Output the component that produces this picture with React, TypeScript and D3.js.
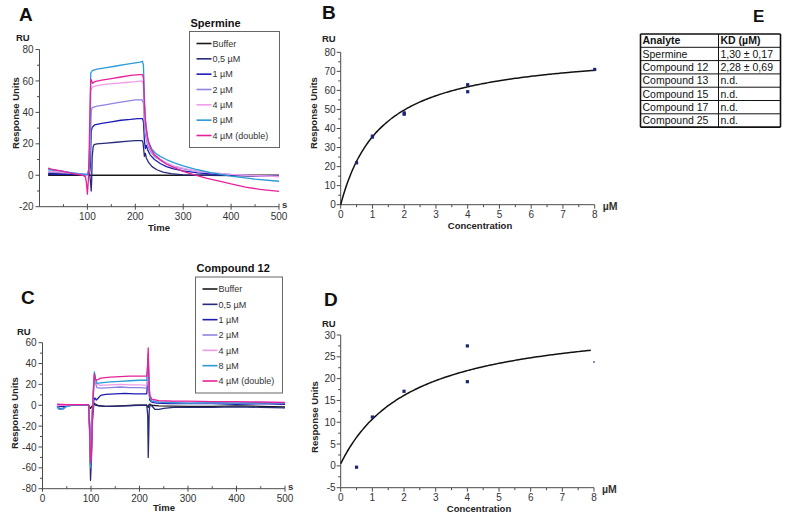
import React from "react";
import * as d3 from "d3";

type Pt = [number, number];

// ---------- legend / colours ----------
const legendLabels = ["Buffer", "0,5 µM", "1 µM", "2 µM", "4 µM", "8 µM", "4 µM (double)"];
const seriesColors = ["#1a1a1a", "#262a78", "#1c1cb4", "#8c84e0", "#ee9ee8", "#2a9ad8", "#e8219a"];

// ---------- Panel A: Spermine sensorgrams (time s, RU) ----------
const spBuffer: Pt[] = [[18, 0], [500, 0]];
const sp05: Pt[] = [[18, 1.2], [40, 1], [60, 0.8], [80, 0.5], [100, 0.3], [105, 0], [107, -6], [108, -10], [109, -2], [110, 12], [112, 18], [114, 19.5], [120, 20], [140, 20.5], [160, 21], [180, 21.5], [200, 22], [214, 22], [216, 21], [218, 15], [219, 12], [221, 14], [223, 11], [228, 8], [235, 5.5], [245, 3.5], [258, 2], [275, 1], [300, 0.3], [350, 0], [400, -0.2], [450, -0.5], [500, -0.6]];
const sp1: Pt[] = [[18, 0.5], [60, 0.5], [100, 0.3], [104, 0], [106, 5], [108, 28], [110, 30.5], [115, 32], [130, 33], [150, 34], [170, 35], [190, 35.5], [205, 36], [215, 36], [217, 34], [219, 22], [221, 17], [223, 19], [226, 16], [231, 13], [240, 10], [252, 7.5], [265, 5.5], [280, 4], [300, 2.8], [330, 1.5], [360, 0.8], [400, 0.2], [450, -0.3], [500, -0.6]];
const sp2: Pt[] = [[18, 2], [50, 1.5], [80, 1], [100, 0.5], [104, 2], [106, 20], [108, 41], [110, 43], [120, 44], [140, 45], [160, 46], [180, 47], [200, 48], [214, 48], [217, 46], [219, 32], [222, 24], [226, 19], [232, 15], [240, 12], [252, 9.5], [265, 7.5], [280, 5.5], [300, 4], [330, 2.5], [360, 1.5], [400, 0.5], [450, -0.2], [500, -0.8]];
const sp4: Pt[] = [[18, 2.5], [50, 2], [80, 1], [100, 0], [104, 5], [106, 35], [107, 54], [110, 56], [120, 57], [140, 58], [160, 58.5], [180, 59], [200, 59.5], [214, 60], [217, 58], [219, 40], [222, 28], [226, 21], [232, 16], [240, 13], [252, 10], [265, 8], [280, 6], [300, 4.5], [330, 2.5], [360, 1.5], [400, 0.5], [450, -0.3], [500, -0.8]];
const sp8: Pt[] = [[18, 3.5], [40, 3], [60, 2], [80, 1], [95, 0.5], [100, 0.5], [104, 5], [106, 40], [107, 65], [110, 66.5], [120, 67.5], [140, 68.5], [160, 69.5], [180, 70.5], [200, 71.5], [210, 72], [215, 72.5], [217, 70], [219, 50], [221, 35], [224, 27], [228, 21], [234, 17], [242, 14], [252, 12], [265, 10], [280, 8], [300, 6], [330, 3.5], [360, 1.5], [400, -0.5], [450, -2.5], [500, -3.8]];
const spDouble: Pt[] = [[18, 4.5], [30, 3.5], [50, 2.5], [70, 1], [90, 0], [96, -1], [98, -5], [100, -12], [102, -3], [104, 20], [106, 50], [107, 61], [109, 60], [111, 58.5], [115, 59.5], [130, 60.5], [150, 61.5], [170, 62.5], [190, 63.5], [210, 64], [215, 64], [217, 62], [219, 45], [222, 32], [226, 23], [232, 17], [240, 13], [252, 10], [265, 7], [280, 5], [300, 2.5], [320, 0.5], [350, -2], [380, -4], [400, -5.5], [430, -7.5], [460, -9], [500, -10.3]];

// ---------- Panel C: Compound 12 sensorgrams ----------
const c12Buffer: Pt[] = [[30, 0], [60, 0], [95, 0], [99, -3], [102, -1], [106, 1], [110, 0], [130, -1], [160, -0.5], [190, 0], [215, 0], [218, -2], [220, 1], [224, 0], [240, -0.5], [300, -1], [350, -1], [400, -0.5], [450, -1], [500, -1.5]];
const c1205: Pt[] = [[30, -1], [35, -3], [42, -3], [48, -1], [55, 0], [80, 0], [95, 0], [97, -20], [99, -72], [101, -50], [103, -15], [106, 2], [110, 1], [115, -0.5], [130, -1], [150, -1], [170, -0.5], [200, 0], [215, 0], [217, -10], [218, -50], [219, -30], [220, -5], [222, 1], [226, -1], [232, -4], [240, -4], [250, -3], [270, -2], [300, -2], [350, -2], [400, -1.5], [450, -2], [500, -2.5]];
const c121: Pt[] = [[30, 0], [35, -1], [45, -1], [55, 0], [95, 0], [97, -15], [99, -45], [101, -30], [103, -5], [106, 5], [108, 7], [111, 5], [115, 7], [120, 9.5], [130, 10.5], [150, 11], [170, 11.5], [190, 11], [210, 11], [215, 11], [217, 25], [218, 42], [219, 20], [221, 5], [225, 3], [235, 2], [260, 1.5], [300, 1.5], [350, 1.5], [400, 1], [450, 1.5], [500, 1]];
const c122: Pt[] = [[30, -1], [35, -4], [42, -4], [50, -1], [60, 0], [95, 0], [97, -20], [99, -55], [101, -35], [103, -5], [105, 10], [107, 28], [109, 22], [112, 17], [120, 16.5], [140, 17], [160, 17.5], [180, 17], [200, 17], [215, 16.5], [217, 30], [218, 45], [219, 25], [221, 8], [225, 4], [235, 3], [260, 2.5], [300, 2], [350, 2], [400, 2.5], [450, 2], [500, 2.5]];
const c124: Pt[] = [[30, 0], [50, 0], [95, 0], [97, -20], [99, -50], [101, -30], [103, -5], [105, 12], [107, 30], [109, 24], [112, 20], [120, 19], [140, 19.5], [160, 20], [180, 19.5], [200, 19.5], [215, 19], [217, 32], [218, 48], [219, 28], [221, 8], [225, 5], [240, 4], [270, 3.5], [300, 3], [350, 3], [400, 3], [450, 3.5], [500, 3]];
const c128: Pt[] = [[30, -2], [35, -4], [42, -3], [50, -1], [60, 0], [95, 0], [97, -25], [99, -60], [101, -40], [103, -5], [105, 15], [107, 32], [109, 26], [112, 21], [120, 21.5], [140, 22.5], [160, 23], [180, 23.5], [200, 24], [215, 24], [217, 40], [218, 50], [219, 30], [221, 8], [225, 4], [240, 3], [270, 2.5], [300, 2], [350, 2.5], [400, 2], [450, 2.5], [500, 2]];
const c12Double: Pt[] = [[30, 1], [50, 0.5], [95, 0.5], [97, -20], [99, -55], [101, -45], [103, -10], [105, 15], [107, 30], [109, 25], [112, 24], [120, 26], [140, 27], [160, 27.5], [180, 28], [200, 28], [215, 28], [217, 40], [218, 55], [219, 30], [221, 10], [225, 6], [240, 4.5], [270, 4], [300, 4], [350, 3.5], [400, 3.5], [450, 3], [500, 2.5]];

// ---------- Panels B / D: steady-state binding ----------
const spermineConc = [0.5, 1, 1, 2, 2, 4, 4, 8];
const spermineRU = [22, 35.5, 36, 47.5, 48.2, 63, 59.3, 71];
const spermineFit = { kd: 1.3, rmax: 82, offset: 0, cmax: 8 };

const c12Conc = [0.5, 1, 2, 4, 4, 8];
const c12RU = [-0.3, 11.2, 17.1, 27.5, 19.3, 23.8];
const c12Fit = { kd: 2.28, rmax: 33.5, offset: 0.5, cmax: 7.92 };

// ---------- Table E ----------
const tableHeader = ["Analyte", "KD (µM)"];
const tableAnalytes = ["Spermine", "Compound 12", "Compound 13", "Compound 15", "Compound 17", "Compound 25"];
const tableKD = ["1,30 ± 0,17", "2,28 ± 0,69", "n.d.", "n.d.", "n.d.", "n.d."];

const FONT = "'Liberation Sans', Arial, sans-serif";
const AXIS = "#4a4a4a";
const TXT = "#333";

function TimePanel(props: {
  letter: string; letterPos: Pt; title: string;
  x0: number; x1: number; yTop: number; yBot: number;
  yDomain: [number, number]; yMajor: number[]; yMinor: number[];
  xMajor: number[]; xMinor: number[]; xLabels: number[];
  series: Pt[][]; legend: { x: number; y: number; w: number; h: number };
  ruPos: Pt; yTitlePos: Pt; timePos: Pt;
}) {
  const p = props;
  const x = d3.scaleLinear().domain([0, 500]).range([p.x0, p.x1]);
  const y = d3.scaleLinear().domain(p.yDomain).range([p.yBot, p.yTop]);
  const line = d3.line<Pt>().x((d) => x(d[0])).y((d) => y(d[1]));
  const lg = p.legend;
  const step = (lg.h - 24) / 6;
  return (
    <g>
      <text x={p.letterPos[0]} y={p.letterPos[1]} fontSize={19} fontWeight="bold" fill="#111">{p.letter}</text>
      {p.series.map((s, i) => (
        <path key={i} d={line(s) || ""} fill="none" stroke={seriesColors[i]} strokeWidth={1.3} strokeLinejoin="round" />
      ))}
      <line x1={p.x0} x2={p.x0} y1={p.yTop} y2={p.yBot} stroke={AXIS} />
      <line x1={p.x0} x2={p.x1} y1={p.yBot} y2={p.yBot} stroke={AXIS} />
      {p.yMajor.map((v) => (
        <g key={"ym" + v}>
          <line x1={p.x0 - 4} x2={p.x0} y1={y(v)} y2={y(v)} stroke={AXIS} />
          <text x={p.x0 - 6} y={y(v) + 3.6} fontSize={10} textAnchor="end" fill={TXT}>{v}</text>
        </g>
      ))}
      {p.yMinor.map((v) => (
        <line key={"yn" + v} x1={p.x0 - 2.5} x2={p.x0} y1={y(v)} y2={y(v)} stroke={AXIS} />
      ))}
      {p.xMajor.map((v) => (
        <line key={"xm" + v} x1={x(v)} x2={x(v)} y1={p.yBot - 3} y2={p.yBot + 3} stroke={AXIS} />
      ))}
      {p.xMinor.map((v) => (
        <line key={"xn" + v} x1={x(v)} x2={x(v)} y1={p.yBot - 2.5} y2={p.yBot} stroke={AXIS} />
      ))}
      {p.xLabels.map((v) => (
        <text key={"xl" + v} x={x(v)} y={p.yBot + 13} fontSize={10} textAnchor="middle" fill={TXT}>{v}</text>
      ))}
      <text x={p.x1 + 3} y={p.yBot + 1} fontSize={9.5} fontWeight="bold" fill={TXT}>s</text>
      <text x={p.ruPos[0]} y={p.ruPos[1]} fontSize={9.5} fontWeight="bold" fill="#222">RU</text>
      <text transform={`translate(${p.yTitlePos[0]},${p.yTitlePos[1]}) rotate(-90)`} fontSize={9.5} fontWeight="bold" textAnchor="middle" fill="#222">Response Units</text>
      <text x={p.timePos[0]} y={p.timePos[1]} fontSize={9.5} fontWeight="bold" textAnchor="middle" fill="#222">Time</text>
      <text x={lg.x + 1} y={lg.y - 5} fontSize={11} fontWeight="bold" fill="#111">{p.title}</text>
      <rect x={lg.x} y={lg.y} width={lg.w} height={lg.h} fill="#fff" stroke="#666" strokeWidth={1} />
      {legendLabels.map((l, i) => (
        <g key={l}>
          <line x1={lg.x + 7} x2={lg.x + 22} y1={lg.y + 12 + i * step} y2={lg.y + 12 + i * step} stroke={seriesColors[i]} strokeWidth={1.6} />
          <text x={lg.x + 23} y={lg.y + 15.2 + i * step} fontSize={9} fill="#333">{l}</text>
        </g>
      ))}
    </g>
  );
}

function BindingPanel(props: {
  letter: string; letterPos: Pt;
  x0: number; x1: number; yTop: number; yBot: number;
  yDomain: [number, number]; yMajor: number[]; yMinor: number[];
  conc: number[]; ru: number[]; fit: { kd: number; rmax: number; offset: number; cmax: number };
  ruPos: Pt; yTitlePos: Pt; concPos: Pt; lightLast?: boolean;
}) {
  const p = props;
  const x = d3.scaleLinear().domain([0, 8]).range([p.x0, p.x1]);
  const y = d3.scaleLinear().domain(p.yDomain).range([p.yBot, p.yTop]);
  const cs = d3.range(0, p.fit.cmax + 0.0001, 0.05);
  const curve = d3.line<number>()
    .x((c) => x(c))
    .y((c) => y(p.fit.offset + (p.fit.rmax * c) / (p.fit.kd + c)))
    .curve(d3.curveMonotoneX);
  const xt = d3.range(0, 9);
  const xm = d3.range(0.5, 8, 1);
  return (
    <g>
      <text x={p.letterPos[0]} y={p.letterPos[1]} fontSize={19} fontWeight="bold" fill="#111">{p.letter}</text>
      <line x1={p.x0} x2={p.x0} y1={p.yTop} y2={p.yBot} stroke={AXIS} />
      <line x1={p.x0} x2={p.x1} y1={p.yBot} y2={p.yBot} stroke={AXIS} />
      {p.yMajor.map((v) => (
        <g key={"ym" + v}>
          <line x1={p.x0 - 4} x2={p.x0} y1={y(v)} y2={y(v)} stroke={AXIS} />
          <text x={p.x0 - 5} y={y(v) + 3.6} fontSize={10} textAnchor="end" fill={TXT}>{v}</text>
        </g>
      ))}
      {p.yMinor.map((v) => (
        <line key={"yn" + v} x1={p.x0 - 2.5} x2={p.x0} y1={y(v)} y2={y(v)} stroke={AXIS} />
      ))}
      {xt.map((v) => (
        <g key={"xt" + v}>
          <line x1={x(v)} x2={x(v)} y1={p.yBot} y2={p.yBot + 4} stroke={AXIS} />
          <text x={x(v)} y={p.yBot + 13} fontSize={10} textAnchor="middle" fill={TXT}>{v}</text>
        </g>
      ))}
      {xm.map((v) => (
        <line key={"xm" + v} x1={x(v)} x2={x(v)} y1={p.yBot} y2={p.yBot + 2.5} stroke={AXIS} />
      ))}
      <text x={p.x1 + 8} y={p.yBot + 5} fontSize={10.5} fontWeight="bold" fill={TXT}>µM</text>
      <path d={curve(cs) || ""} fill="none" stroke="#111" strokeWidth={1.5} />
      {p.conc.map((c, i) => {
        const light = p.lightLast && i === p.conc.length - 1;
        const s = light ? 2 : 3.2;
        return (
          <rect key={i} x={x(c) - s / 2} y={y(p.ru[i]) - s / 2} width={s} height={s} fill={light ? "#8a8fb8" : "#1d2470"} />
        );
      })}
      <text x={p.ruPos[0]} y={p.ruPos[1]} fontSize={9.5} fontWeight="bold" fill="#222">RU</text>
      <text transform={`translate(${p.yTitlePos[0]},${p.yTitlePos[1]}) rotate(-90)`} fontSize={9.5} fontWeight="bold" textAnchor="middle" fill="#222">Response Units</text>
      <text x={p.concPos[0]} y={p.concPos[1]} fontSize={9.5} fontWeight="bold" textAnchor="middle" fill="#222">Concentration</text>
    </g>
  );
}

function Table() {
  const left = 640.5, mid = 718.5, right = 780.5, top = 34, rowH = 13.3;
  const rows = tableAnalytes.length + 1;
  const ys = d3.range(rows + 1).map((i) => top + i * rowH);
  return (
    <g>
      <text x={753} y={22} fontSize={17} fontWeight="bold" fill="#111">E</text>
      {ys.map((yy, i) => (
        <line key={i} x1={left} x2={right} y1={yy} y2={yy} stroke="#111" strokeWidth={i === 0 || i === rows ? 1.6 : 1} />
      ))}
      <line x1={left} x2={left} y1={top} y2={ys[rows]} stroke="#111" strokeWidth={1.6} />
      <line x1={mid} x2={mid} y1={top} y2={ys[rows]} stroke="#111" />
      <line x1={right} x2={right} y1={top} y2={ys[rows]} stroke="#111" strokeWidth={1.6} />
      <text x={left + 2} y={top + rowH - 3} fontSize={10.5} fontWeight="bold" fill="#111">{tableHeader[0]}</text>
      <text x={mid + 2} y={top + rowH - 3} fontSize={10.5} fontWeight="bold" fill="#111">{tableHeader[1]}</text>
      {tableAnalytes.map((a, i) => (
        <g key={a}>
          <text x={left + 2} y={top + (i + 2) * rowH - 3} fontSize={10.5} fill="#111">{a}</text>
          <text x={mid + 2} y={top + (i + 2) * rowH - 3} fontSize={10.5} fill="#111">{tableKD[i]}</text>
        </g>
      ))}
    </g>
  );
}

export default function App() {
  return (
    <svg width={787} height={524} style={{ position: "absolute", left: 0, top: 0, background: "#fff" }} fontFamily={FONT}>
      <rect width={787} height={524} fill="#fff" />
      <TimePanel
        letter="A" letterPos={[19, 21]} title="Spermine"
        x0={39.5} x1={279} yTop={49.5} yBot={206.7}
        yDomain={[-20, 80]} yMajor={[-20, 0, 20, 40, 60, 80]} yMinor={[-10, 10, 30, 50, 70]}
        xMajor={[100, 200, 300, 400, 500]} xMinor={[50, 150, 250, 350, 450]} xLabels={[100, 200, 300, 400, 500]}
        series={[spBuffer, sp05, sp1, sp2, sp4, sp8, spDouble]}
        legend={{ x: 189.5, y: 31.5, w: 90, h: 116 }}
        ruPos={[16, 41]} yTitlePos={[19, 113]} timePos={[159, 231]}
      />
      <TimePanel
        letter="C" letterPos={[21, 304]} title="Compound 12"
        x0={42.5} x1={285} yTop={342.7} yBot={488.7}
        yDomain={[-80, 60]} yMajor={[-80, -60, -40, -20, 0, 20, 40, 60]} yMinor={[-70, -50, -30, -10, 10, 30, 50]}
        xMajor={[0, 100, 200, 300, 400, 500]} xMinor={[50, 150, 250, 350, 450]} xLabels={[0, 100, 200, 300, 400, 500]}
        series={[c12Buffer, c1205, c121, c122, c124, c128, c12Double]}
        legend={{ x: 195.5, y: 277, w: 87, h: 116 }}
        ruPos={[17, 335]} yTitlePos={[18, 413]} timePos={[164, 511]}
      />
      <BindingPanel
        letter="B" letterPos={[322, 19]}
        x0={340.7} x1={594.7} yTop={52.3} yBot={204.7}
        yDomain={[0, 80]} yMajor={[0, 10, 20, 30, 40, 50, 60, 70, 80]} yMinor={[5, 15, 25, 35, 45, 55, 65, 75]}
        conc={spermineConc} ru={spermineRU} fit={spermineFit}
        ruPos={[322, 42]} yTitlePos={[317, 113]} concPos={[480, 229]}
      />
      <BindingPanel
        letter="D" letterPos={[324, 306]}
        x0={340.7} x1={594} yTop={335} yBot={487.7}
        yDomain={[-5, 30]} yMajor={[-5, 0, 5, 10, 15, 20, 25, 30]} yMinor={[-2.5, 2.5, 7.5, 12.5, 17.5, 22.5, 27.5]}
        conc={c12Conc} ru={c12RU} fit={c12Fit} lightLast
        ruPos={[322, 327]} yTitlePos={[318, 417]} concPos={[479, 512]}
      />
      <Table />
    </svg>
  );
}
